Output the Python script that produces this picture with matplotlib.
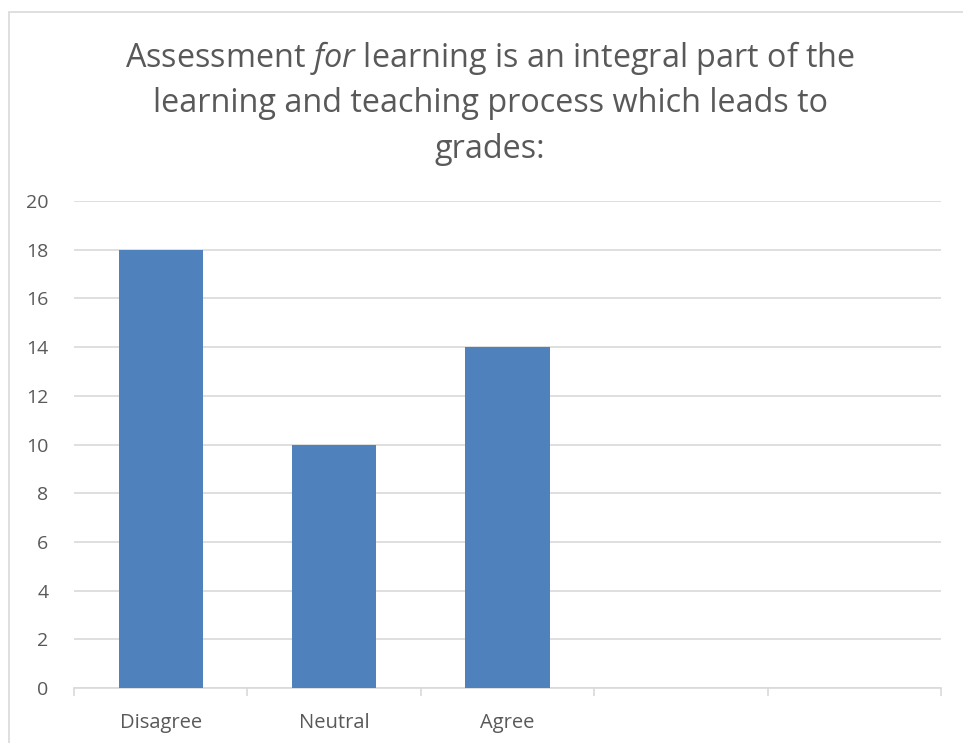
import matplotlib
matplotlib.use("Agg")
import matplotlib.pyplot as plt
from matplotlib.patches import Rectangle

categories = ["Disagree", "Neutral", "Agree", "", ""]
values = [18, 10, 14, None, None]
yticks = [0, 2, 4, 6, 8, 10, 12, 14, 16, 18, 20]

FONT = "Open Sans"
plt.rcParams['font.family'] = [FONT, 'DejaVu Sans']
plt.rcParams['mathtext.fontset'] = 'custom'
plt.rcParams['mathtext.it'] = FONT + ':italic'
plt.rcParams['mathtext.rm'] = FONT

W, H = 963, 743
fig = plt.figure(figsize=(W / 100, H / 100), dpi=100)
fig.patches.append(Rectangle((9 / W, -0.1), 1.2, 1.1 - 12 / H, transform=fig.transFigure,
                             fill=False, edgecolor="#d9d9d9", linewidth=1.2))

ax = fig.add_axes([74 / W, 55 / H, (941 - 74) / W, (688 - 201) / H])
xs = list(range(len(categories)))
for x, v in zip(xs, values):
    if v is not None:
        ax.bar(x, v, width=0.485, color="#4f81bd", zorder=3)

ax.set_xlim(-0.5, len(categories) - 0.5)
ax.set_ylim(0, 20)
ax.set_yticks(yticks)
ax.set_yticklabels([str(t) for t in yticks], fontsize=14, color="#595959")
ax.set_xticks(xs)
ax.set_xticklabels(categories, fontsize=14.5, color="#595959")
ax.tick_params(axis='y', length=0, pad=18.5)
ax.tick_params(axis='x', length=0, pad=18)
ax.set_xticks([i - 0.5 for i in range(len(categories) + 1)], minor=True)
ax.tick_params(axis='x', which='minor', length=6, color="#d9d9d9", width=1.2)
ax.grid(axis='y', color="#d9d9d9", linewidth=1.2, zorder=0)
for s in ['top', 'right', 'left']:
    ax.spines[s].set_visible(False)
ax.spines['bottom'].set_color("#d9d9d9")
ax.spines['bottom'].set_linewidth(1.2)

title_lines = [r"Assessment $\it{for}$ learning is an integral part of the",
               "learning and teaching process which leads to",
               "grades:"]
for i, line in enumerate(title_lines):
    fig.text(490 / W, 1 - (58 + 45.5 * i) / H, line, ha='center', va='center',
             fontsize=23.3, color="#595959")

fig.savefig("out.png", dpi=100)
